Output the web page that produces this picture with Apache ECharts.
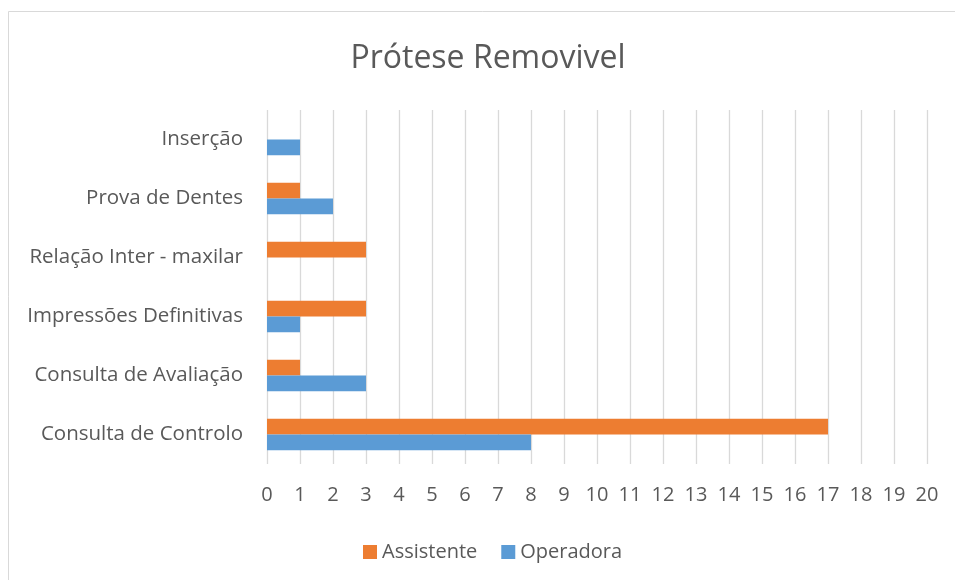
<!DOCTYPE html>
<html>
<head>
<meta charset="utf-8">
<script src="https://cdn.jsdelivr.net/npm/echarts@6/dist/echarts.min.js"></script>
<style>
  html, body { margin: 0; padding: 0; background: #ffffff; }
  #chart { width: 955px; height: 580px; }
</style>
</head>
<body>
<div id="chart"></div>
<script>
const categories = [
  'Consulta de Controlo',
  'Consulta de Avaliação',
  'Impressões Definitivas',
  'Relação Inter - maxilar',
  'Prova de Dentes',
  'Inserção'
]
const assistente = [17, 1, 3, 3, 1, 0]
const operadora = [8, 3, 1, 0, 2, 1]

const FONT = '"Open Sans", "Noto Sans", sans-serif'
const TEXT = '#595959'

const chart = echarts.init(document.getElementById('chart'))

chart.setOption({
  backgroundColor: '#ffffff',
  animation: false,
  title: {
    text: 'Prótese Removivel',
    left: 483,
    textAlign: 'center',
    top: 38,
    textStyle: {
      color: TEXT,
      fontFamily: FONT,
      fontSize: 32,
      fontWeight: 'normal'
    }
  },
  legend: {
    data: ['Assistente', 'Operadora'],
    left: 358,
    top: 537,
    itemWidth: 14,
    itemHeight: 14,
    itemGap: 24,
    icon: 'rect',
    textStyle: {
      color: TEXT,
      fontFamily: FONT,
      fontSize: 20
    }
  },
  grid: {
    left: 267,
    right: 28,
    top: 110,
    bottom: 116
  },
  xAxis: {
    type: 'value',
    min: 0,
    max: 20,
    interval: 1,
    axisLine: { show: false },
    axisTick: { show: false },
    splitLine: { lineStyle: { color: '#d9d9d9', width: 1.3 } },
    axisLabel: {
      color: TEXT,
      fontFamily: FONT,
      fontSize: 20,
      margin: 21
    }
  },
  yAxis: {
    type: 'category',
    data: categories,
    axisLine: { show: false },
    axisTick: { show: false },
    axisLabel: {
      color: TEXT,
      fontFamily: FONT,
      fontSize: 20.5,
      margin: 24
    }
  },
  series: [
    {
      name: 'Assistente',
      type: 'bar',
      data: assistente,
      barGap: '0%',
      barCategoryGap: '47%',
      itemStyle: { color: '#ed7d31' }
    },
    {
      name: 'Operadora',
      type: 'bar',
      data: operadora,
      barGap: '0%',
      barCategoryGap: '47%',
      itemStyle: { color: '#5b9bd5' }
    }
  ],
  graphic: [
    {
      type: 'rect',
      shape: { x: 8.5, y: 11.5, width: 1200, height: 1200 },
      style: { fill: 'none', stroke: '#d9d9d9', lineWidth: 1 },
      silent: true
    }
  ]
})
</script>
</body>
</html>
